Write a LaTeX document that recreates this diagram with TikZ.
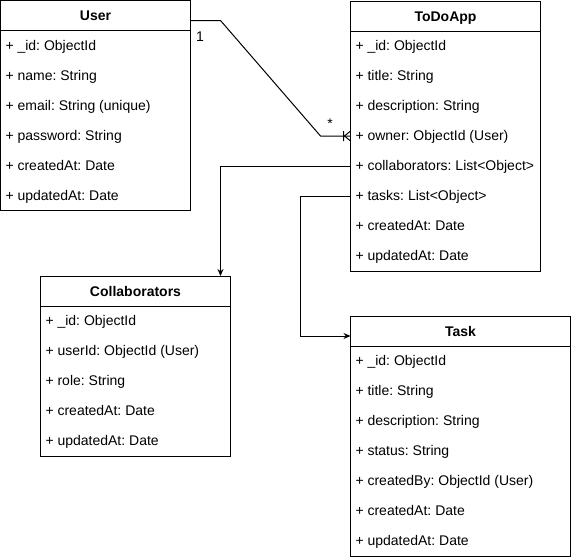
\documentclass[tikz,border=0pt]{standalone}
\usepackage{fontspec}
\setmainfont{Liberation Sans}
\usetikzlibrary{positioning,calc,arrows.meta}
\frenchspacing

\tikzstyle{every node}+=[inner sep=0pt,outer sep=0pt,font=\fontsize{14}{16}\selectfont]
\tikzstyle{every path}+=[line width=1pt]
\tikzstyle{head}=[draw,minimum height=30pt,text height=11.5pt,text depth=1.5pt,font=\fontsize{14}{16}\selectfont\bfseries,anchor=north west]
\tikzstyle{field}=[minimum height=30pt,text height=11pt,text depth=2pt,inner xsep=5pt]
\tikzset{under/.style={below=0pt of #1.south west,anchor=north west}}
\tikzstyle{link}=[-{Stealth[length=7pt,width=6pt]}]

\begin{document}
\begin{tikzpicture}[x=1pt,y=-1pt]
\useasboundingbox (0,0) rectangle (571,557);

% User
\node[head,minimum width=190pt] (userh) at (0.5,0.5) {User};
\node[field,under=userh] (u1) {+ \_id: ObjectId};
\node[field,under=u1] (u2) {+ name: String};
\node[field,under=u2] (u3) {+ email: String (unique)};
\node[field,under=u3] (u4) {+ password: String};
\node[field,under=u4] (u5) {+ createdAt: Date};
\node[field,under=u5] (u6) {+ updatedAt: Date};
\draw (userh.south west) rectangle (userh.east |- u6.south);

% ToDoApp
\node[head,minimum width=190pt] (apph) at (350.5,1) {ToDoApp};
\node[field,under=apph] (a1) {+ \_id: ObjectId};
\node[field,under=a1] (a2) {+ title: String};
\node[field,under=a2] (a3) {+ description: String};
\node[field,under=a3] (a4) {+ owner: ObjectId (User)};
\node[field,under=a4] (a5) {+ collaborators: List<Object>};
\node[field,under=a5] (a6) {+ tasks: List<Object>};
\node[field,under=a6] (a7) {+ createdAt: Date};
\node[field,under=a7] (a8) {+ updatedAt: Date};
\draw (apph.south west) rectangle (apph.east |- a8.south);

% Collaborators
\node[head,minimum width=190pt] (collh) at (40.5,276) {Collaborators};
\node[field,under=collh] (c1) {+ \_id: ObjectId};
\node[field,under=c1] (c2) {+ userId: ObjectId (User)};
\node[field,under=c2] (c3) {+ role: String};
\node[field,under=c3] (c4) {+ createdAt: Date};
\node[field,under=c4] (c5) {+ updatedAt: Date};
\draw (collh.south west) rectangle (collh.east |- c5.south);

% Task
\node[head,minimum width=220pt] (taskh) at (350.5,316) {Task};
\node[field,under=taskh] (t1) {+ \_id: ObjectId};
\node[field,under=t1] (t2) {+ title: String};
\node[field,under=t2] (t3) {+ description: String};
\node[field,under=t3] (t4) {+ status: String};
\node[field,under=t4] (t5) {+ createdBy: ObjectId (User)};
\node[field,under=t5] (t6) {+ createdAt: Date};
\node[field,under=t6] (t7) {+ updatedAt: Date};
\draw (taskh.south west) rectangle (taskh.east |- t7.south);

% owner: one to many
\coordinate (uo) at ($(userh.east)+(0,5)$);
\draw (uo) -- ++(30,0) -- ($(a4.west)+(-30,0)$) -- (a4.west);
\draw ($(a4.west)+(-6,0)$) -- ($(a4.west)+(0,-5)$)
      ($(a4.west)+(-6,0)$) -- ($(a4.west)+(0,5)$)
      ($(a4.west)+(-7,-5)$) -- ($(a4.west)+(-7,5)$);
\node (one) at (200,37) {1};
\node (many) at (330,124) {*};

% collaborators, tasks
\draw[link] (a5.west) -| ($(collh.north east)+(-10,0)$);
\draw[link] (a6.west) -- ++(-50,0) |- ($(taskh.west)+(0,5)$);
\end{tikzpicture}
\end{document}
